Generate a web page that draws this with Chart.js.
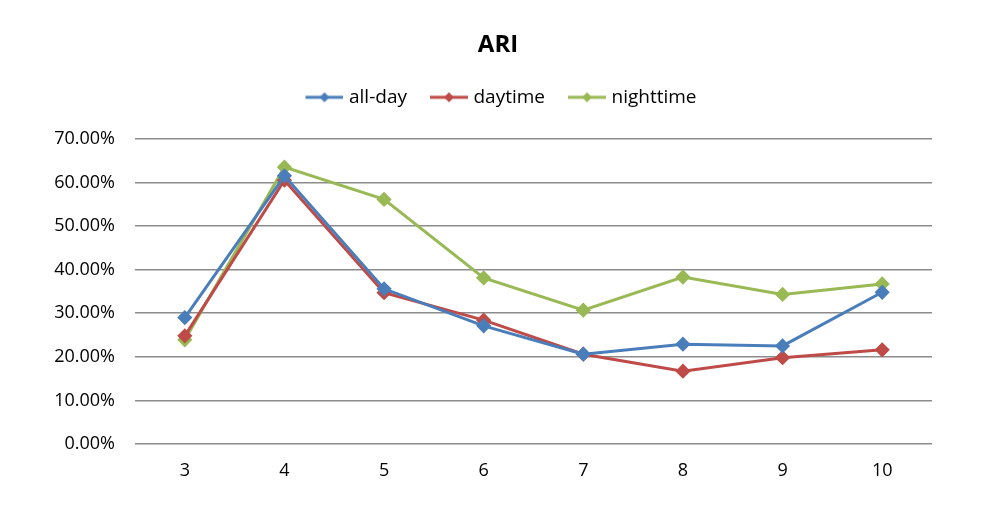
<!DOCTYPE html>
<html>
<head>
<meta charset="utf-8">
<script src="https://cdn.jsdelivr.net/npm/chart.js@4/dist/chart.umd.min.js"></script>
<style>
  html, body { margin: 0; padding: 0; background: #fff; }
  #wrap { width: 982px; height: 521px; }
</style>
</head>
<body>
<div id="wrap"><canvas id="c" width="982" height="521"></canvas></div>
<script>
// ARI by hour group (percent)
const categories = ['3', '4', '5', '6', '7', '8', '9', '10'];
const allDay    = [29.0, 61.5, 35.6, 27.1, 20.6, 22.9, 22.5, 34.8];
const daytime   = [24.8, 60.5, 34.7, 28.4, 20.6, 16.7, 19.8, 21.6];
const nighttime = [23.9, 63.5, 56.1, 38.1, 30.7, 38.3, 34.3, 36.7];
const yTicks = [0, 10, 20, 30, 40, 50, 60, 70];

const FONT = "'Open Sans', 'Liberation Sans', sans-serif";
const COLORS = { blue: '#4a7ebb', red: '#be4b48', green: '#98b954' };

// legend marker: short line with a diamond in the middle (left 10px left blank on purpose)
const legendMark = (color) => {
  const c = document.createElement('canvas');
  c.width = 48; c.height = 14;
  const g = c.getContext('2d');
  g.strokeStyle = color;
  g.lineWidth = 3;
  g.beginPath(); g.moveTo(10, 7); g.lineTo(48, 7); g.stroke();
  g.fillStyle = color;
  g.beginPath(); g.moveTo(29, 2); g.lineTo(34, 7); g.lineTo(29, 12); g.lineTo(24, 7); g.closePath(); g.fill();
  return c;
};

const series = (label, data, color) => ({
  label,
  data,
  borderColor: color,
  backgroundColor: color,
  borderWidth: 3,
  pointStyle: 'rectRot',
  pointRadius: 5.5,
  pointHoverRadius: 6,
  pointBackgroundColor: color,
  pointBorderColor: color,
  tension: 0,
  fill: false,
  $mark: legendMark(color),
});

new Chart(document.getElementById('c'), {
  type: 'line',
  data: {
    labels: categories,
    datasets: [
      series('all-day', allDay, COLORS.blue),
      series('daytime', daytime, COLORS.red),
      series('nighttime', nighttime, COLORS.green),
    ],
  },
  options: {
    responsive: false,
    animation: false,
    layout: { padding: { left: 14, right: 0, top: 0, bottom: 0 } },
    plugins: {
      title: {
        display: true,
        text: 'ARI',
        color: '#000',
        font: { family: FONT, size: 24, weight: 'bold' },
        padding: { top: 31, bottom: 11 },
      },
      // empty spacer between legend and plot
      subtitle: {
        display: true,
        text: '',
        weight: 500,
        font: { size: 1, lineHeight: 1 },
        padding: { top: 21, bottom: 0 },
      },
      legend: {
        position: 'top',
        labels: {
          usePointStyle: true,
          pointStyleWidth: 40,
          padding: 17,
          color: '#000',
          font: { family: FONT, size: 19 },
          generateLabels: (chart) => chart.data.datasets.map((ds, i) => ({
            text: ds.label,
            pointStyle: ds.$mark,
            fillStyle: ds.borderColor,
            strokeStyle: ds.borderColor,
            lineWidth: 0,
            hidden: false,
            datasetIndex: i,
            fontColor: '#000',
          })),
        },
      },
      tooltip: { enabled: false },
    },
    scales: {
      x: {
        offset: true,
        grid: { display: false, drawTicks: false },
        border: { display: false },
        ticks: { color: '#000', padding: 16, font: { family: FONT, size: 18 } },
        afterFit: (scale) => { scale.height = 77; },
      },
      y: {
        min: 0,
        max: 70,
        afterBuildTicks: (scale) => { scale.ticks = yTicks.map((v) => ({ value: v })); },
        grid: { color: '#8c8c8c', lineWidth: 1.5, drawTicks: false },
        border: { display: false },
        ticks: {
          color: '#000',
          padding: 20,
          font: { family: FONT, size: 18 },
          callback: (v) => `${v.toFixed(2)}%`,
        },
        afterFit: (scale) => { scale.width = 121; },
      },
      // blank right margin so the plot ends where the reference does
      pad: {
        type: 'linear',
        position: 'right',
        display: true,
        grid: { display: false },
        border: { display: false },
        ticks: { display: false },
        afterFit: (scale) => { scale.width = 50; },
      },
    },
  },
});
</script>
</body>
</html>
